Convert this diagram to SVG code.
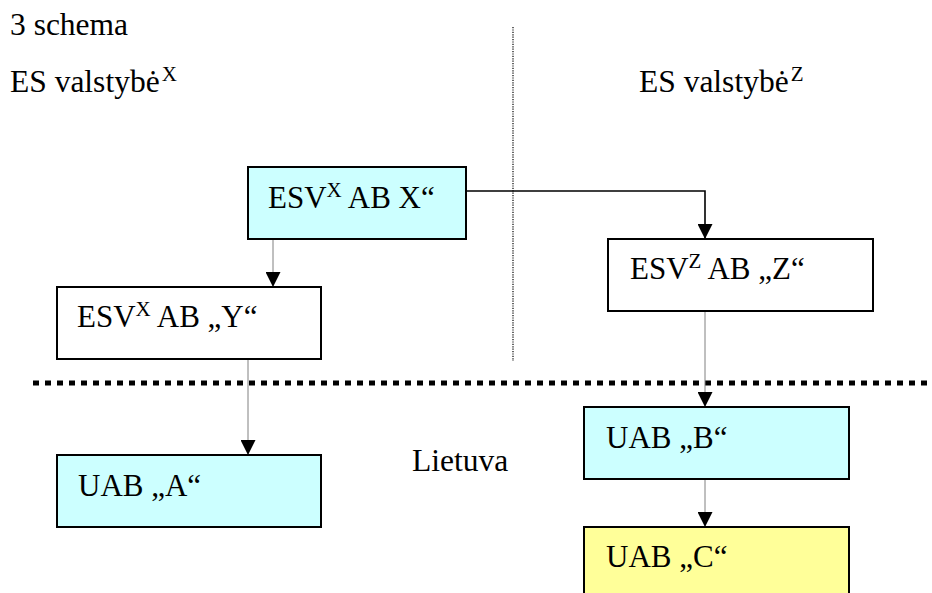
<svg xmlns="http://www.w3.org/2000/svg" width="932" height="593" viewBox="0 0 932 593" font-family="'Liberation Serif', 'Times New Roman', Times, serif">
  <style>
    text { font-family: 'Liberation Serif', 'Times New Roman', Times, serif; font-size: 31px; fill: #000; }
    .lbl { font-size: 31.5px; }
    .sup { font-size: 21px; }
    .box { stroke: #000; stroke-width: 2; }
    .cyan { fill: #CCFFFF; }
    .white { fill: #FFFFFF; }
    .yellow { fill: #FFFF99; }
    .thin { stroke: #808080; stroke-width: 1; fill: none; }
    .main { stroke: #000; stroke-width: 1.6; fill: none; }
  </style>
  <defs>
    <marker id="arrow" markerUnits="userSpaceOnUse" markerWidth="15" markerHeight="15" refX="15" refY="7.5" orient="auto">
      <path d="M0,0 L15,7.5 L0,15 Z" fill="#000"/>
    </marker>
  </defs>
  <rect width="932" height="593" fill="#FFFFFF"/>

  <g id="labels">
    <text class="lbl" x="10" y="35">3 schema</text>
    <text class="lbl" x="10" y="92">ES valstybė<tspan class="sup" dx="2" dy="-11">X</tspan></text>
    <text class="lbl" x="639" y="92">ES valstybė<tspan class="sup" dx="2" dy="-11">Z</tspan></text>
    <text class="lbl" x="412" y="471">Lietuva</text>
  </g>

  <g id="separators">
    <line x1="513" y1="27" x2="513" y2="361" stroke="#000" stroke-width="1.2" stroke-dasharray="1.2 1.2"/>
    <line x1="33" y1="383" x2="932" y2="383" stroke="#000" stroke-width="5" stroke-dasharray="6 6"/>
  </g>

  <g id="connectors">
    <line class="thin" x1="273" y1="240" x2="273" y2="287" marker-end="url(#arrow)"/>
    <line class="thin" x1="248" y1="360" x2="248" y2="455" marker-end="url(#arrow)"/>
    <polyline class="main" points="467,191 705,191 705,239" marker-end="url(#arrow)"/>
    <line class="thin" x1="705" y1="312" x2="705" y2="407" marker-end="url(#arrow)"/>
    <line class="thin" x1="705" y1="480" x2="705" y2="527" marker-end="url(#arrow)"/>
  </g>

  <g id="node-esv-x">
    <rect class="box cyan" x="248" y="167" width="218" height="72"/>
    <text x="268" y="208">ESV<tspan class="sup" dy="-11">X</tspan><tspan dy="11"> AB X“</tspan></text>
  </g>

  <g id="node-esv-y">
    <rect class="box white" x="57" y="287" width="264" height="72"/>
    <text x="77" y="327">ESV<tspan class="sup" dy="-11">X</tspan><tspan dy="11"> AB „Y“</tspan></text>
  </g>

  <g id="node-esv-z">
    <rect class="box white" x="608" y="239" width="265" height="72"/>
    <text x="630" y="279">ESV<tspan class="sup" dy="-11">Z</tspan><tspan dy="11"> AB „Z“</tspan></text>
  </g>

  <g id="node-uab-a">
    <rect class="box cyan" x="57" y="455" width="264" height="72"/>
    <text x="78" y="496">UAB „A“</text>
  </g>

  <g id="node-uab-b">
    <rect class="box cyan" x="584" y="407" width="265" height="72"/>
    <text x="606" y="448">UAB „B“</text>
  </g>

  <g id="node-uab-c">
    <rect class="box yellow" x="584" y="527" width="265" height="80"/>
    <text x="606" y="567">UAB „C“</text>
  </g>
</svg>
